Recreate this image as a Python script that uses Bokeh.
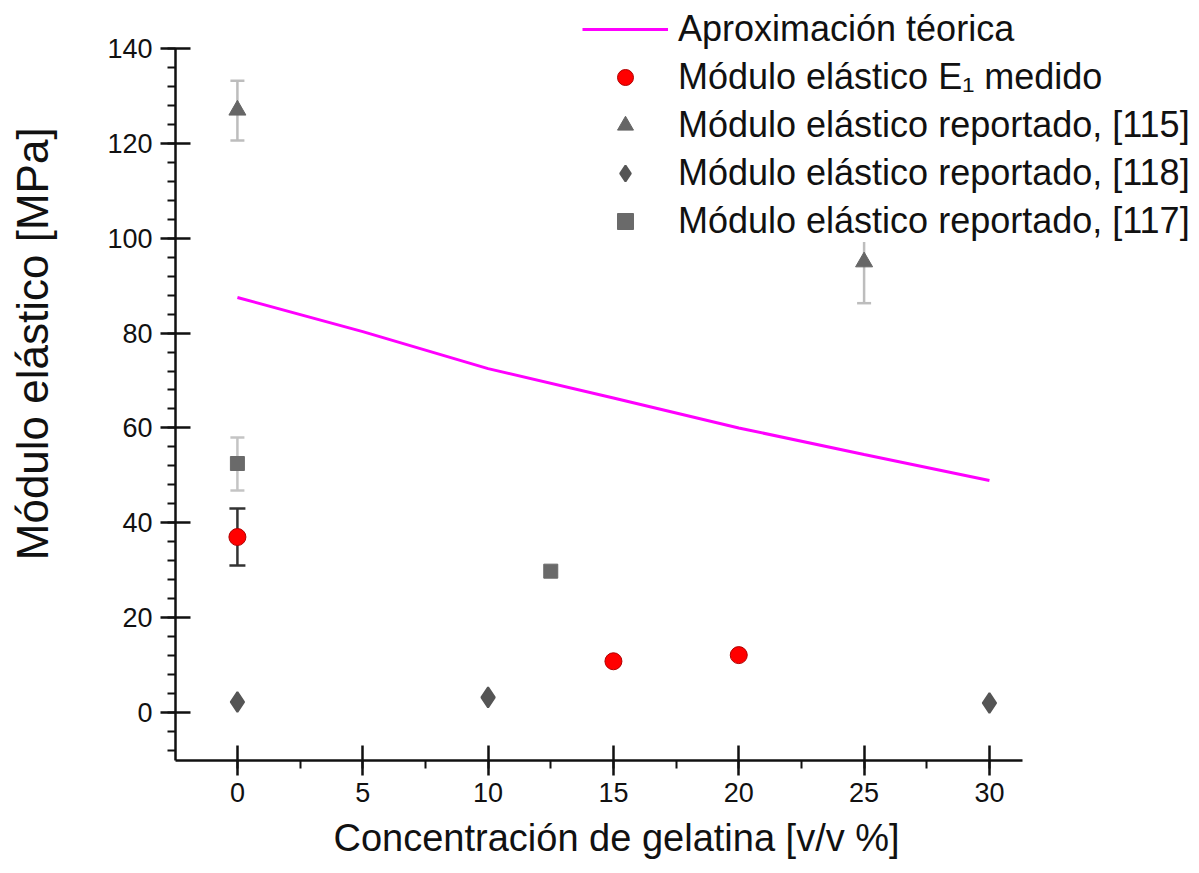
from bokeh.plotting import figure
from bokeh.models import (Range1d, SingleIntervalTicker, ColumnDataSource, Whisker, TeeHead,
                          Legend, LegendItem, Title)
from bokeh.embed import file_html
from bokeh.resources import INLINE

# ---- data ----
x_teo = [0, 5, 10, 15, 20, 25, 30]
y_teo = [87.5, 80.3, 72.5, 66.3, 60.0, 54.4, 48.9]

x_med = [0, 15, 20]
y_med = [37.0, 10.8, 12.1]
lo_med = [31.0, None, None]
hi_med = [43.0, None, None]

x_115 = [0, 25]
y_115 = [127.0, 95.0]
lo_115 = [120.6, 86.3]
hi_115 = [133.2, 103.7]

x_118 = [0, 10, 30]
y_118 = [2.2, 3.2, 2.0]

x_117 = [0, 12.5]
y_117 = [52.5, 29.8]
lo_117 = [46.8, None]
hi_117 = [58.0, None]

labels = ["Aproximación téorica",
          "Módulo elástico E₁ medido",
          "Módulo elástico reportado, [115]",
          "Módulo elástico reportado, [118]",
          "Módulo elástico reportado, [117]"]
xlabel = "Concentración de gelatina [v/v %]"
ylabel = "Módulo elástico [MPa]"

FONT = "Liberation Sans"
X_AXIS = (-2.47, 31.32)
Y_AXIS = (-10.12, 140.0)

p = figure(width=1199, height=873, output_backend="svg", toolbar_location=None,
           x_range=Range1d(-2.47, 38.38), y_range=Range1d(-10.12, 150.12),
           min_border_left=175, min_border_right=0, min_border_top=0, min_border_bottom=113)
p.outline_line_color = None
p.xgrid.visible = False
p.ygrid.visible = False

p.xaxis.ticker = SingleIntervalTicker(interval=5, num_minor_ticks=2)
p.yaxis.ticker = SingleIntervalTicker(interval=20, num_minor_ticks=5)
p.xaxis.bounds = X_AXIS
p.yaxis.bounds = Y_AXIS
for ax in (p.xaxis, p.yaxis):
    ax.axis_line_width = 2.5
    ax.axis_line_color = "#111111"
    ax.major_tick_line_width = 2.5
    ax.major_tick_line_color = "#111111"
    ax.minor_tick_line_width = 2
    ax.minor_tick_line_color = "#111111"
    ax.major_tick_in = 15
    ax.major_tick_out = 15
    ax.minor_tick_in = 0
    ax.minor_tick_out = 8
    ax.major_label_text_font = FONT
    ax.major_label_text_font_size = "27px"
    ax.major_label_text_color = "#111111"
    ax.axis_label_text_font = FONT
    ax.axis_label_text_font_style = "normal"
    ax.axis_label_text_color = "#111111"
p.xaxis.major_label_standoff = 7
p.yaxis.major_label_standoff = 8

# y title: axis label (leading no-break spaces shift it up to match the original placement)
p.yaxis.axis_label = "\u00a0" * 6 + ylabel
p.yaxis.axis_label_text_font_size = "44px"
p.yaxis.axis_label_standoff = 47

# x title: a below-panel title starting where the original text starts
xt = Title(text=xlabel, align="left", offset=158, vertical_align="top", text_font=FONT,
           text_font_size="38px", text_font_style="normal", text_color="#111111")
try:
    xt.standoff = 24
except Exception:
    pass
p.add_layout(xt, "below")

# whiskers (error bars)
def keep(xs, lo, hi):
    xx, ll, hh = [], [], []
    for a, b, c in zip(xs, lo, hi):
        if b is not None and c is not None:
            xx.append(a); ll.append(b); hh.append(c)
    return ColumnDataSource(dict(x=xx, lower=ll, upper=hh))

def add_whisker(src, color, head, width):
    w = Whisker(source=src, base="x", lower="lower", upper="upper", dimension="height",
                line_color=color, line_width=width,
                lower_head=TeeHead(size=head, line_color=color, line_width=width),
                upper_head=TeeHead(size=head, line_color=color, line_width=width),
                level="underlay")
    p.add_layout(w)

add_whisker(keep(x_115, lo_115, hi_115), "#bdbdbd", 14, 2.5)
add_whisker(keep(x_117, lo_117, hi_117), "#c4c4c4", 14, 2.5)
add_whisker(keep(x_med, lo_med, hi_med), "#333333", 16, 2.5)

r_line = p.line(x_teo, y_teo, line_color="#ff00ff", line_width=3)
r_med = p.scatter(x_med, y_med, marker="circle", size=17, fill_color="#ff0000",
                  line_color="#b00000", line_width=1)
r_115 = p.scatter(x_115, y_115, marker="triangle", size=17, fill_color="#666666",
                  line_color="#666666")
r_118 = p.scatter(x_118, y_118, marker="diamond", size=20,
                  fill_color="#555555", line_color="#555555", line_width=2)
r_117 = p.scatter(x_117, y_117, marker="square", size=14, fill_color="#6a6a6a",
                  line_color="#6a6a6a")

legend = Legend(items=[LegendItem(label=labels[0], renderers=[r_line]),
                       LegendItem(label=labels[1], renderers=[r_med]),
                       LegendItem(label=labels[2], renderers=[r_115]),
                       LegendItem(label=labels[3], renderers=[r_118]),
                       LegendItem(label=labels[4], renderers=[r_117])],
                location=(407, 518), padding=0, margin=0, spacing=6,
                glyph_width=86, glyph_height=40, label_standoff=10,
                label_text_font=FONT, label_text_font_size="36px", label_text_color="#111111",
                border_line_color=None, background_fill_color="white", background_fill_alpha=1.0)
p.add_layout(legend, "center")

open("out.html", "w").write(file_html(p, INLINE))
